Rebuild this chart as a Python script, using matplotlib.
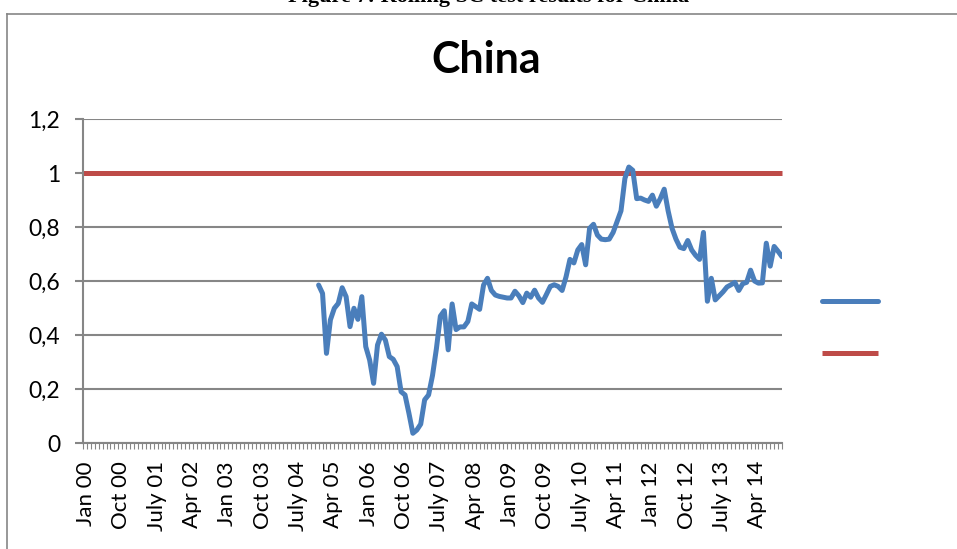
import numpy as np
import pandas as pd
import matplotlib
matplotlib.use('Agg')
import matplotlib.pyplot as plt
from matplotlib.ticker import FixedLocator, FuncFormatter

plt.rcParams['font.family'] = ['Lato', 'DejaVu Sans']

# ---- data ----
months = pd.date_range('2000-01-01', '2014-11-01', freq='MS')
series_start = '2005-01-01'
china = [0.585, 0.554, 0.332, 0.456, 0.499, 0.517, 0.575, 0.542, 0.431, 0.499, 0.458, 0.542,   # 2005
         0.357, 0.307, 0.221, 0.363, 0.403, 0.381, 0.320, 0.310, 0.283, 0.190, 0.178, 0.110,   # 2006
         0.036, 0.048, 0.070, 0.160, 0.178, 0.250, 0.350, 0.470, 0.490, 0.345, 0.515, 0.420,   # 2007
         0.430, 0.430, 0.450, 0.515, 0.505, 0.495, 0.585, 0.610, 0.565, 0.548, 0.543, 0.540,   # 2008
         0.537, 0.537, 0.562, 0.545, 0.520, 0.555, 0.540, 0.566, 0.537, 0.521, 0.550, 0.580,   # 2009
         0.586, 0.580, 0.565, 0.615, 0.680, 0.667, 0.715, 0.735, 0.660, 0.795, 0.810, 0.770,   # 2010
         0.755, 0.753, 0.755, 0.780, 0.820, 0.860, 0.980, 1.022, 1.010, 0.905, 0.907, 0.900,   # 2011
         0.895, 0.918, 0.877, 0.905, 0.940, 0.860, 0.795, 0.755, 0.725, 0.720, 0.750, 0.715,   # 2012
         0.695, 0.680, 0.780, 0.525, 0.610, 0.530, 0.545, 0.560, 0.578, 0.586, 0.595, 0.565,   # 2013
         0.590, 0.595, 0.640, 0.600, 0.592, 0.593, 0.740, 0.655, 0.728, 0.710, 0.690]          # 2014
threshold = [1.0] * len(months)
tick_labels = ['Jan 00', 'Oct 00', 'July 01', 'Apr 02', 'Jan 03', 'Oct 03', 'July 04',
               'Apr 05', 'Jan 06', 'Oct 06', 'July 07', 'Apr 08', 'Jan 09', 'Oct 09',
               'July 10', 'Apr 11', 'Jan 12', 'Oct 12', 'July 13', 'Apr 14']
label_step = 9  # one label every 9 months

BLUE = '#4A7EBB'
RED = '#BE4B48'
GRAY = '#868686'

fig = plt.figure(figsize=(9.57, 5.49), dpi=100)

# chart frame + the caption of the page, cut off by the crop
fig.add_artist(plt.Line2D([0.0073, 0.0073], [0, 1 - 14 / 549], transform=fig.transFigure, color=GRAY, lw=1.2))
fig.add_artist(plt.Line2D([0.0073, 1], [1 - 14 / 549, 1 - 14 / 549], transform=fig.transFigure, color=GRAY, lw=1.2))
fig.text(0.51, 1 - 2 / 549, 'Figure 7: Rolling SC test results for China', ha='center', va='baseline',
         fontsize=16, fontweight='bold', family=['Liberation Serif', 'DejaVu Serif'])

ax = fig.add_axes([83 / 957, 1 - 443 / 549, 699 / 957, 324 / 549])

x_all = np.arange(len(months))
i0 = months.get_loc(pd.Timestamp(series_start))
x_cn = np.arange(i0, i0 + len(china))

l1, = ax.plot(x_cn, china, color=BLUE, lw=3.6, solid_joinstyle='round', solid_capstyle='round', zorder=3)
l2, = ax.plot(x_all, threshold, color=RED, lw=3.6, solid_capstyle='butt', zorder=2, clip_on=False)

# categories sit on the tick marks: first month on the y axis, last on the right edge
ax.set_xlim(0, len(months) - 1)
ax.set_ylim(0, 1.2)
ax.set_yticks(np.arange(0, 1.21, 0.2))
ax.yaxis.set_major_formatter(FuncFormatter(lambda v, p: f'{round(v, 1):g}'.replace('.', ',')))
ax.grid(axis='y', color=GRAY, lw=1.5)
ax.set_axisbelow(True)

# labels: every 9th month, drawn a bit right of the month tick like Excel does
ax.xaxis.set_major_locator(FixedLocator(np.arange(len(tick_labels)) * label_step + 0.75))
ax.set_xticklabels(tick_labels, rotation=90, va='top', ha='center')
ax.xaxis.set_minor_locator(FixedLocator(x_all))

for s in ['top', 'right']:
    ax.spines[s].set_visible(False)
for s in ['left', 'bottom']:
    ax.spines[s].set_color(GRAY)
    ax.spines[s].set_linewidth(1.5)

ax.tick_params(axis='y', length=5.5, width=1.5, color=GRAY, pad=11, labelsize=16.5)
ax.tick_params(axis='x', which='major', length=0, pad=13, labelsize=16)
ax.tick_params(axis='x', which='minor', length=4.5, width=0.8, color=GRAY)

fig.text(486 / 957, 1 - 60 / 549, 'China', ha='center', va='center', fontsize=31, fontweight='bold')

ax.legend([l1, l2], ['', ''], loc='center left', bbox_to_anchor=(1.032, 0.355), frameon=False,
          handlelength=2.9, fontsize=14, labelspacing=1.8, handletextpad=0)

fig.savefig('out.png', dpi=100)
